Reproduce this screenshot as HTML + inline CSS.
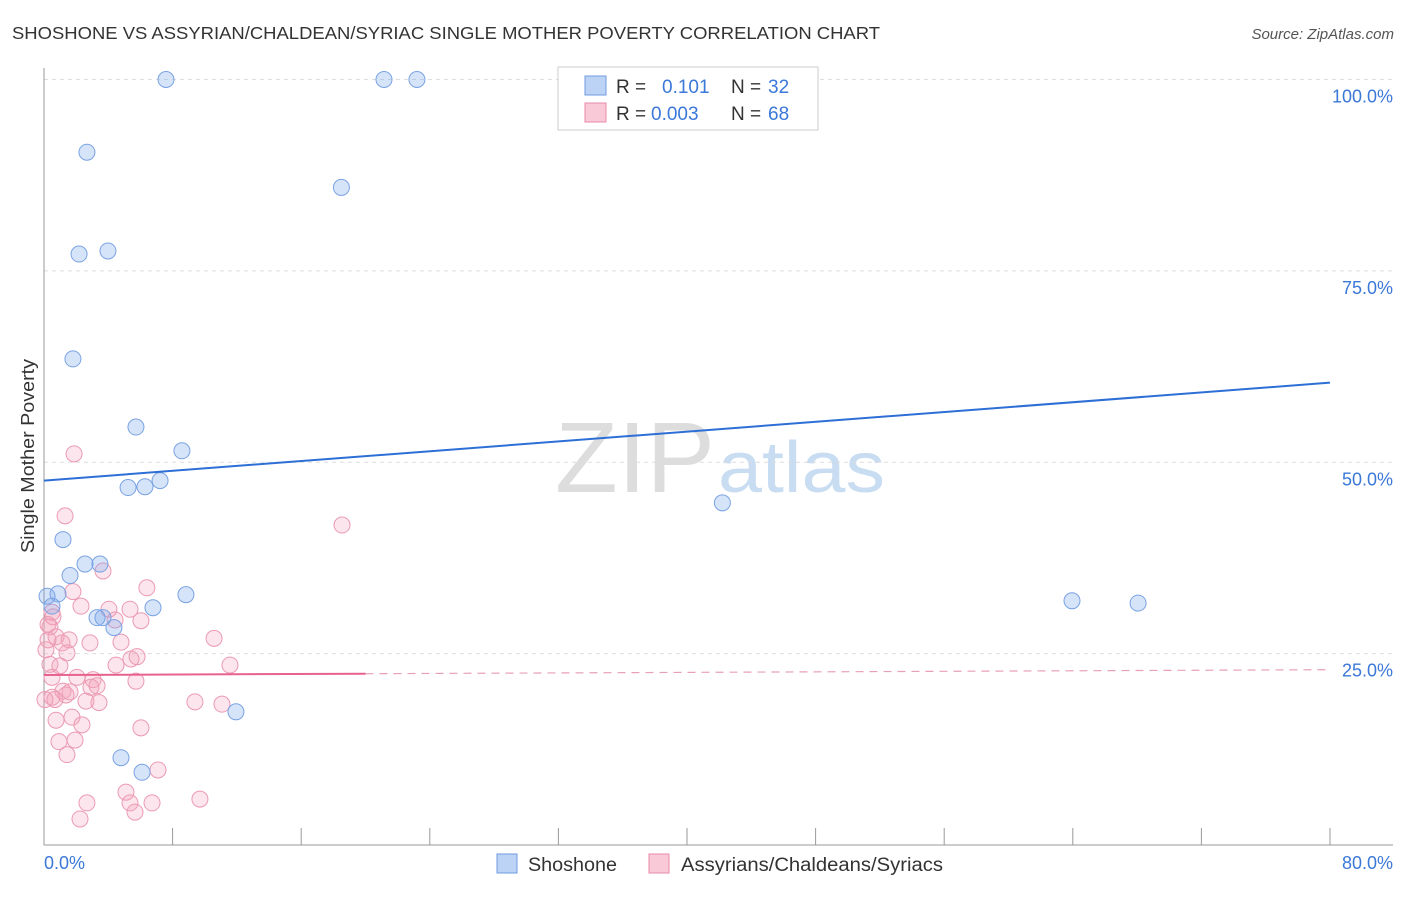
<!DOCTYPE html>
<html><head><meta charset="utf-8"><style>
body{margin:0;background:#fff;font-family:"Liberation Sans",sans-serif}
svg text{font-family:"Liberation Sans",sans-serif}
</style></head><body>
<svg id="chart" width="1406" height="892">
<text x="12" y="39" font-size="17.5" fill="#333" textLength="868" lengthAdjust="spacingAndGlyphs">SHOSHONE VS ASSYRIAN/CHALDEAN/SYRIAC SINGLE MOTHER POVERTY CORRELATION CHART</text>
<text x="1394" y="39" font-size="15" fill="#555" text-anchor="end" font-style="italic">Source: ZipAtlas.com</text>
<text x="555" y="492" font-size="100" fill="#ddd" textLength="160" lengthAdjust="spacingAndGlyphs" font-family="Liberation Serif">ZIP</text>
<text x="718" y="492" font-size="72" fill="#c8dcf2" textLength="167" lengthAdjust="spacingAndGlyphs">atlas</text>
<text transform="translate(34,456) rotate(-90)" font-size="18" fill="#333" text-anchor="middle" textLength="194" lengthAdjust="spacingAndGlyphs">Single Mother Poverty</text>
<g id="grid"></g><g id="axes"></g><g id="marks"></g>
<g>
<rect x="558" y="67" width="260" height="63" fill="#fff" stroke="#ccc"/>
<rect x="585" y="76" width="21" height="19" fill="#bcd3f5" stroke="#6e9be0"/>
<text x="616" y="93" font-size="19" fill="#333">R = </text><text x="662" y="93" font-size="19" fill="#3b78d8">0.101</text>
<text x="731" y="93" font-size="19" fill="#333">N = </text><text x="768" y="93" font-size="19" fill="#3b78d8">32</text>
<rect x="585" y="103" width="21" height="19" fill="#f9c9d8" stroke="#e88aa8"/>
<text x="616" y="120" font-size="19" fill="#333">R = </text><text x="651" y="120" font-size="19" fill="#3b78d8">0.003</text>
<text x="731" y="120" font-size="19" fill="#333">N = </text><text x="768" y="120" font-size="19" fill="#3b78d8">68</text>
</g>
<g>
<rect x="497" y="854" width="20" height="19" fill="#bcd3f5" stroke="#6e9be0"/>
<text x="528" y="871" font-size="19" fill="#333" textLength="89" lengthAdjust="spacingAndGlyphs">Shoshone</text>
<rect x="649" y="854" width="20" height="19" fill="#f9c9d8" stroke="#e88aa8"/>
<text x="681" y="871" font-size="19" fill="#333" textLength="262" lengthAdjust="spacingAndGlyphs">Assyrians/Chaldeans/Syriacs</text>
</g>
</svg>
<script>
const yTicks=[25,50,75,100];
const yTickLabels=["25.0%","50.0%","75.0%","100.0%"];
const xTicks=[0,8,16,24,32,40,48,56,64,72,80];
const blueX=[7.59,21.15,23.2,36.9,2.67,18.5,2.18,3.98,1.8,5.72,8.58,5.23,6.28,7.22,42.2,1.18,1.62,2.55,3.48,0.19,0.87,0.5,6.78,8.83,3.3,3.67,4.35,11.94,4.79,6.1,63.95,68.06];
const blueY=[100,100,100,100,90.5,85.9,77.2,77.6,63.5,54.6,51.5,46.7,46.8,47.6,44.7,39.9,35.2,36.7,36.7,32.5,32.8,31.2,31.0,32.7,29.7,29.7,28.4,17.4,11.4,9.5,31.9,31.6];
const pinkX=[1.87,18.54,1.31,3.67,6.4,1.8,2.3,0.5,4.04,5.35,4.42,6.03,0.37,0.75,1.56,2.86,1.12,4.79,10.58,1.43,5.41,5.79,0.37,0.99,4.48,11.57,0.5,2.05,3.05,5.72,2.92,3.3,1.18,1.62,0.5,1.37,0.68,2.61,3.42,9.39,11.07,0.75,1.74,2.36,6.03,0.93,1.93,1.43,7.09,5.1,2.67,5.35,6.72,9.7,2.24,5.66,0.25,0.12,0.56,0.06,0.25];
const pinkY=[51.1,41.8,43.0,35.8,33.6,33.1,31.2,30.4,30.8,30.8,29.4,29.3,28.5,27.2,26.8,26.4,26.4,26.5,27.0,25.1,24.3,24.6,23.6,23.4,23.5,23.5,21.9,21.9,21.6,21.4,20.6,20.8,20.1,20.0,19.3,19.6,19.0,18.8,18.6,18.7,18.4,16.3,16.7,15.7,15.3,13.5,13.7,11.8,9.8,6.9,5.5,5.5,5.5,6.0,3.4,4.3,26.8,25.5,29.8,19.0,28.8];
const blueTrend=[47.6,60.4];
const pinkTrend=[22.2,22.9];
const NS="http://www.w3.org/2000/svg";
const X=v=>44+v/80*1286, Y=v=>845-v*7.655;
function mk(tag,attrs,parent){const e=document.createElementNS(NS,tag);for(const k in attrs)e.setAttribute(k,attrs[k]);document.getElementById(parent).appendChild(e);return e;}
yTicks.forEach((t,i)=>{
 const l=mk('line',{x1:44,x2:1393,y1:Y(t),y2:Y(t),stroke:'#ddd','stroke-dasharray':'4,4'},'grid');
 
 
 const tx=mk('text',{x:1393,y:Y(t)+23,'font-size':18,fill:'#3b78d8','text-anchor':'end'},'axes');tx.textContent=yTickLabels[i];
 
 
});
const ax=mk('line',{x1:44,x2:44,y1:68,y2:845,stroke:'#999'},'axes');


const bx=mk('line',{x1:44,x2:1393,y1:845,y2:845,stroke:'#999'},'axes');


xTicks.forEach(t=>{const l=mk('line',{x1:X(t),x2:X(t),y1:828,y2:845,stroke:'#999'},'axes');
 
 });
const x0=mk('text',{x:44,y:869,'font-size':18,fill:'#3b78d8'},'axes');x0.textContent='0.0%';


const x1=mk('text',{x:1393,y:869,'font-size':18,fill:'#3b78d8','text-anchor':'end'},'axes');x1.textContent='80.0%';


pinkX.forEach((v,i)=>{const c=mk('circle',{cx:X(v),cy:Y(pinkY[i]),r:8,fill:'rgba(245,160,185,0.28)',stroke:'#eb9ab4','stroke-width':1},'marks');
 
 });
blueX.forEach((v,i)=>{const c=mk('circle',{cx:X(v),cy:Y(blueY[i]),r:8,fill:'rgba(120,165,235,0.3)',stroke:'#7aa3e3','stroke-width':1},'marks');
 
 });
const bt=mk('line',{x1:X(0),x2:X(80),y1:Y(blueTrend[0]),y2:Y(blueTrend[1]),stroke:'#2e6fd6','stroke-width':2},'marks');


const ps=20;const py=v=>pinkTrend[0]+(pinkTrend[1]-pinkTrend[0])*v/80;
const pt=mk('line',{x1:X(0),x2:X(ps),y1:Y(py(0)),y2:Y(py(ps)),stroke:'#e8628e','stroke-width':2},'marks');


const pd=mk('line',{x1:X(ps),x2:X(80),y1:Y(py(ps)),y2:Y(py(80)),stroke:'#e8a0b8','stroke-width':1.2,'stroke-dasharray':'8,6'},'marks');


</script>
</body></html>
